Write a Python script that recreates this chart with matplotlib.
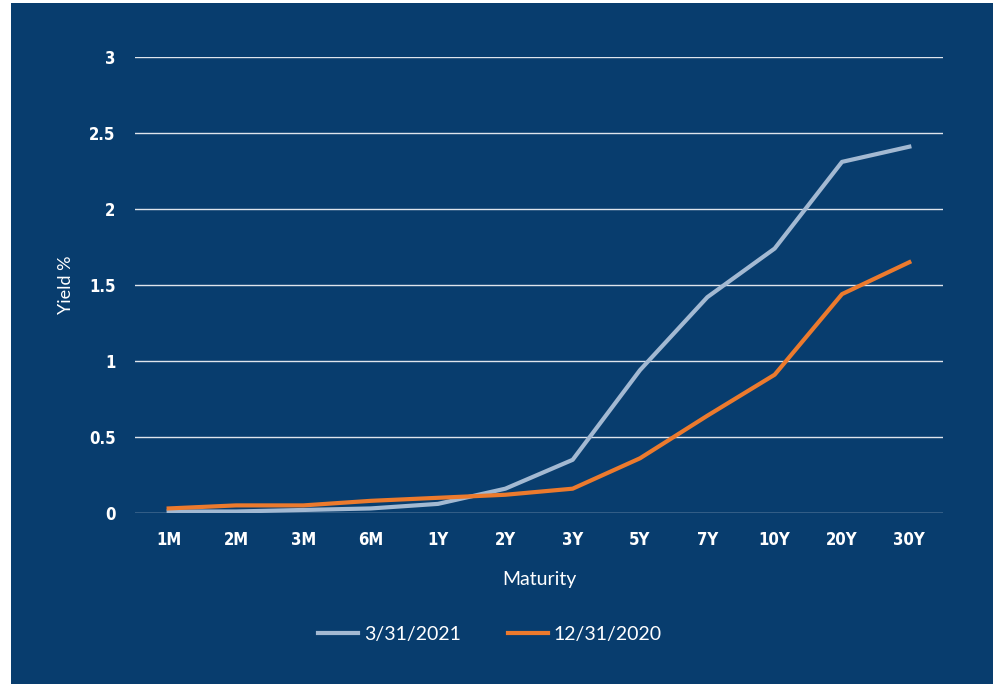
import matplotlib.pyplot as plt
from matplotlib.patches import Rectangle

# yield curve data
maturities = ['1M', '2M', '3M', '6M', '1Y', '2Y', '3Y', '5Y', '7Y', '10Y', '20Y', '30Y']
yield_mar21 = [0.01, 0.01, 0.02, 0.03, 0.06, 0.16, 0.35, 0.94, 1.42, 1.74, 2.31, 2.41]
yield_dec20 = [0.03, 0.05, 0.05, 0.08, 0.10, 0.12, 0.16, 0.36, 0.64, 0.91, 1.44, 1.65]
y_ticks = [0, 0.5, 1, 1.5, 2, 2.5, 3]
y_tick_labels = ['0', '0.5', '1', '1.5', '2', '2.5', '3']

bg = '#083d6e'
W, H = 993, 685

fig = plt.figure(figsize=(W / 100, H / 100), dpi=100, facecolor='white')
# dark panel with a thin white margin on the left/top
fig.patches.append(Rectangle((11 / W, 1 / H), 1 - 11 / W, (H - 4) / H,
                             transform=fig.transFigure, facecolor=bg,
                             edgecolor='none', zorder=-10))

ax = fig.add_axes([135 / W, 1 - 513 / H, 808 / W, (513 - 57) / H])
ax.set_facecolor('none')
ax.set_zorder(5)

x = range(len(maturities))
ax.plot(x, yield_mar21, color='#a3b9d2', lw=3, label='3/31/2021', zorder=3)
ax.plot(x, yield_dec20, color='#ec7a2d', lw=3, label='12/31/2020', zorder=3)

ax.set_xlim(-0.5, len(maturities) - 0.5)
ax.set_ylim(0, 3)
ax.set_yticks(y_ticks)
ax.set_yticklabels(y_tick_labels)
ax.set_xticks(list(x))
ax.set_xticklabels(maturities)
ax.grid(axis='y', color='#dfe5ec', lw=1)
ax.set_axisbelow(True)
for s in ax.spines.values():
    s.set_visible(False)
ax.tick_params(length=0, colors='white')
ax.tick_params(axis='y', pad=14)
ax.tick_params(axis='x', pad=13)
for lab in ax.get_xticklabels() + ax.get_yticklabels():
    lab.set_fontfamily('DejaVu Sans')
    lab.set_fontstretch('condensed')
    lab.set_fontweight('bold')
    lab.set_fontsize(12)

ax.set_xlabel('Maturity', color='white', fontsize=14, family='Lato', labelpad=16)
ax.set_ylabel('Yield %', color='white', fontsize=13, family='Lato')
ax.yaxis.set_label_coords((74 - 135) / 808, 0.5)

leg = ax.legend(loc='upper center', bbox_to_anchor=((490 - 135) / 808, -0.21), ncol=2,
                frameon=False, handlelength=2.05, handletextpad=0.3,
                columnspacing=2.4, prop={'family': 'Lato', 'size': 14})
for t in leg.get_texts():
    t.set_color('white')

fig.savefig('out.png', dpi=100, facecolor='white')
